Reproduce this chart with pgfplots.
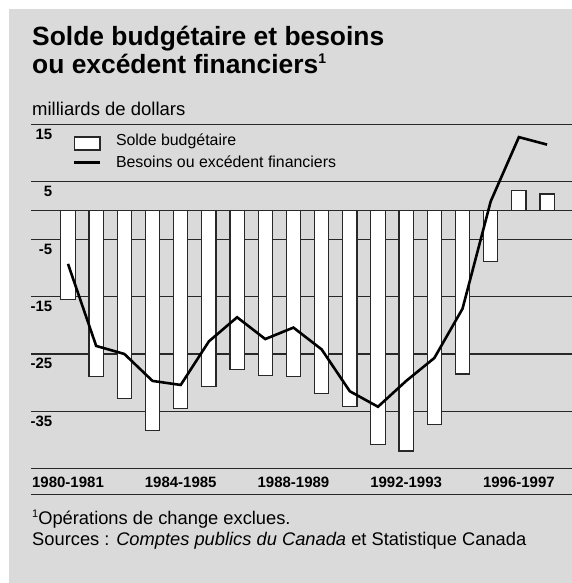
\documentclass[border=0pt]{standalone}
\usepackage{fontspec}
\setmainfont{Liberation Sans}
\usepackage{pgfplots}
\pgfplotsset{compat=1.18}
\definecolor{bg}{RGB}{218,218,218}
\definecolor{ln}{RGB}{40,40,40}

\begin{document}
\begin{tikzpicture}
\useasboundingbox (0pt,0pt) rectangle (572pt,-583pt);
\fill[bg] (9pt,-9pt) rectangle (572pt,-583pt);

% titre
\node[anchor=base west,inner sep=0pt,font=\bfseries\fontsize{26.4}{28}\selectfont] at (32pt,-46pt) {Solde budgétaire et besoins};
\node[anchor=base west,inner sep=0pt,font=\bfseries\fontsize{26.4}{28}\selectfont] at (32pt,-73.3pt) {ou excédent financiers\raisebox{9.5pt}{\fontsize{14}{14}\selectfont 1}};
\node[anchor=base west,inner sep=0pt,font=\fontsize{18.5}{20}\selectfont] at (32pt,-116pt) {milliards de dollars};

\begin{axis}[
  at={(31pt,-468.7pt)}, anchor=south west,
  scale only axis, width=541pt, height=344.2pt,
  xmin=-1.313, xmax=17.885, ymin=-45, ymax=15,
  axis line style={draw=none},
  major tick length=0pt,
  ytick={15,5,0,-5,-15,-25,-35,-45},
  yticklabels={15,5,,-5,-15,-25,-35,},
  ymajorgrids, grid style={line width=1.2pt, ln},
  xtick={0,4,8,12,16},
  xticklabels={1980-1981,1984-1985,1988-1989,1992-1993,1996-1997},
  ticklabel style={font=\bfseries\fontsize{15}{15}\selectfont, inner sep=0pt},
  yticklabel style={anchor=base east, xshift=21.5pt, yshift=-15pt},
  xticklabel style={anchor=base, yshift=-18.6pt},
  legend style={at={(0,1)}, anchor=north west, xshift=42pt, yshift=-9.4pt,
    draw=none, fill=none, inner sep=0pt, outer sep=0pt,
    font=\fontsize{15.9}{18}\selectfont,
    row sep={22pt,between origins}, column sep={41.7pt,between origins},
    cells={anchor=base west}, nodes={inner sep=0pt}},
]
\addplot[ybar, bar width=14.3pt, bar shift=0pt, fill=white, draw=ln, line width=1.2pt,
  legend image code/.code={\draw[fill=white,draw=ln,line width=1.2pt] (0pt,-4.3pt) rectangle (25.7pt,8.7pt);}]
  coordinates {(0,-15.5) (1,-28.9) (2,-32.7) (3,-38.3) (4,-34.5) (5,-30.7) (6,-27.7) (7,-28.7) (8,-28.9)
    (9,-31.9) (10,-34.2) (11,-40.8) (12,-41.9) (13,-37.3) (14,-28.5) (15,-8.9) (16,3.5) (17,2.9)};
\addlegendentry{Solde budgétaire}
\addplot[black, line width=2.6pt, mark=none,
  legend image code/.code={\draw[black,line width=2.6pt] (0pt,5.4pt) -- (25.7pt,5.4pt);}]
  coordinates {(0,-9.3) (1,-23.6) (2,-25.0) (3,-29.7) (4,-30.4) (5,-22.8) (6,-18.6) (7,-22.4) (8,-20.4)
    (9,-24.2) (10,-31.5) (11,-34.2) (12,-29.7) (13,-25.7) (14,-17.1) (15,1.6) (16,12.8) (17,11.5)};
\addlegendentry{Besoins ou excédent financiers}
\end{axis}

\draw[ln, line width=1.2pt] (31pt,-494.3pt) -- (572pt,-494.3pt);

\node[anchor=base west,inner sep=0pt,font=\fontsize{18.3}{20}\selectfont] at (32pt,-524pt) {\raisebox{7pt}{\fontsize{11}{11}\selectfont 1}Opérations de change exclues.};
\node[anchor=base west,inner sep=0pt,font=\fontsize{18.3}{20}\selectfont] at (32pt,-545.5pt) {Sources : \textit{Comptes publics du Canada} et Statistique Canada};
\end{tikzpicture}
\end{document}
